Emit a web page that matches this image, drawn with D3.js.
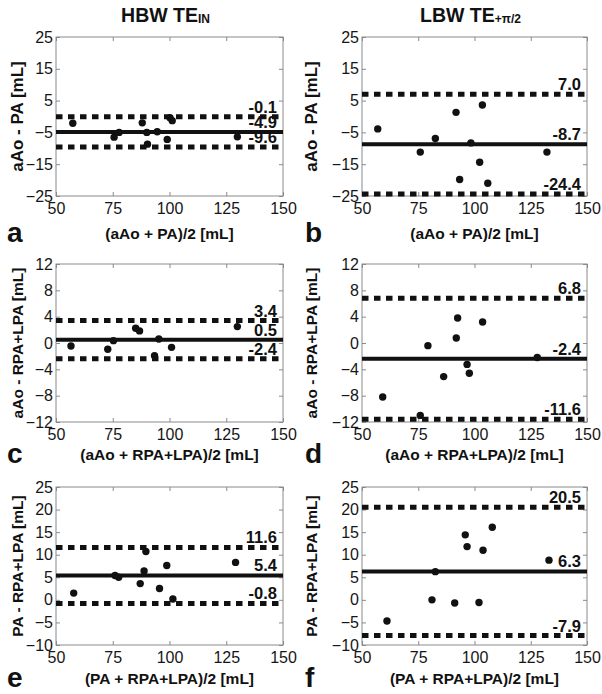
<!DOCTYPE html>
<html><head><meta charset="utf-8">
<script src="https://cdn.jsdelivr.net/npm/d3@7"></script>
<style>
body{margin:0;background:#fff}
text{font-family:"Liberation Sans",Arial,Helvetica,sans-serif}
</style>
</head><body>
<svg id="chart" width="602" height="694"></svg>
<script>
// ---- data ----
const xTicks = [50, 75, 100, 125, 150];
const yTicksAB = [-25, -15, -5, 5, 15, 25];
const yTicksCD = [-12, -8, -4, 0, 4, 8, 12];
const yTicksEF = [-10, -5, 0, 5, 10, 15, 20, 25];

const aMeanX = [57.4, 75.6, 77.8, 88.0, 90.0, 90.3, 94.6, 99.0, 100.2, 101.2, 129.9];
const aDiff  = [-2.1, -6.5, -5.0, -2.0, -5.0, -8.7, -4.8, -7.2, -0.4, -1.3, -6.4];
const aStats = [-4.9, -9.6, -0.1]; // mean, lower, upper

const bMeanX = [57.0, 75.9, 82.6, 91.8, 93.4, 98.4, 102.3, 103.5, 105.9, 132.2];
const bDiff  = [-3.9, -11.2, -6.9, 1.3, -19.8, -8.3, -14.4, 3.6, -21.0, -11.2];
const bStats = [-8.7, -24.4, 7.0];

const cMeanX = [56.6, 72.8, 75.3, 85.1, 86.8, 93.4, 95.3, 100.9, 129.9];
const cDiff  = [-0.46, -0.96, 0.36, 2.24, 1.84, -1.93, 0.61, -0.66, 2.49];
const cStats = [0.5, -2.4, 3.4];

const dMeanX = [59.2, 75.9, 79.3, 86.3, 91.9, 92.5, 96.7, 97.7, 103.6, 127.9];
const dDiff  = [-8.2, -11.0, -0.4, -5.1, 0.75, 3.8, -3.25, -4.6, 3.2, -2.2];
const dStats = [-2.4, -11.6, 6.8];

const eMeanX = [57.8, 76.0, 77.6, 87.1, 88.8, 89.6, 95.6, 98.8, 101.5, 129.1];
const eDiff  = [1.5, 5.4, 5.0, 3.6, 6.4, 10.7, 2.5, 7.6, 0.2, 8.3];
const eStats = [5.4, -0.8, 11.6];

const fMeanX = [61.1, 81.1, 82.6, 91.2, 95.9, 96.7, 102.0, 103.8, 107.9, 133.1];
const fDiff  = [-4.7, 0.0, 6.25, -0.7, 14.4, 11.8, -0.6, 11.0, 16.1, 8.8];
const fStats = [6.3, -7.9, 20.5];

const panelLetters = ["a", "b", "c", "d", "e", "f"];
const xTitles = ["(aAo + PA)/2 [mL]", "(aAo + PA)/2 [mL]",
                 "(aAo + RPA+LPA)/2 [mL]", "(aAo + RPA+LPA)/2 [mL]",
                 "(PA + RPA+LPA)/2 [mL]", "(PA + RPA+LPA)/2 [mL]"];
const yTitles = ["aAo - PA [mL]", "aAo - PA [mL]",
                 "aAo - RPA+LPA [mL]", "aAo - RPA+LPA [mL]",
                 "PA - RPA+LPA [mL]", "PA - RPA+LPA [mL]"];
const colTitles = [["HBW TE", "IN"], ["LBW TE", "+π/2"]];

// ---- layout ----
const svg = d3.select("#chart");
const colL = [56, 362], colR = [283, 587];
const rowT = [37, 264, 487], rowB = [196, 422, 645];
const rowTitleY = [239, 460, 684];
const rowYTitleSize = [17, 15.5, 15.5];

const panels = [
  {xs: aMeanX, ys: aDiff, st: aStats, yt: yTicksAB},
  {xs: bMeanX, ys: bDiff, st: bStats, yt: yTicksAB},
  {xs: cMeanX, ys: cDiff, st: cStats, yt: yTicksCD},
  {xs: dMeanX, ys: dDiff, st: dStats, yt: yTicksCD},
  {xs: eMeanX, ys: eDiff, st: eStats, yt: yTicksEF},
  {xs: fMeanX, ys: fDiff, st: fStats, yt: yTicksEF}
];

const frameCol = "#8a8a8a";

panels.forEach((p, i) => {
  const col = i % 2, row = Math.floor(i / 2);
  const L = colL[col], R = colR[col], T = rowT[row], B = rowB[row];
  const x = d3.scaleLinear().domain([xTicks[0], xTicks[xTicks.length - 1]]).range([L, R]);
  const y = d3.scaleLinear().domain([p.yt[0], p.yt[p.yt.length - 1]]).range([B, T]);
  const g = svg.append("g");

  // axes
  g.append("g").attr("transform", `translate(0,${B})`)
    .call(d3.axisBottom(x).tickValues(xTicks).tickSizeInner(-4).tickSizeOuter(0).tickPadding(7));
  g.append("g").attr("transform", `translate(${L},0)`)
    .call(d3.axisLeft(y).tickValues(p.yt).tickSizeInner(-4).tickSizeOuter(0).tickPadding(3));
  g.append("g").attr("transform", `translate(0,${T})`)
    .call(d3.axisTop(x).tickValues(xTicks).tickSizeInner(-4).tickSizeOuter(0).tickFormat(""));
  g.append("g").attr("transform", `translate(${R},0)`)
    .call(d3.axisRight(y).tickValues(p.yt).tickSizeInner(-4).tickSizeOuter(0).tickFormat(""));
  g.selectAll(".domain").remove();
  g.selectAll(".tick line").attr("stroke", frameCol).attr("stroke-width", 1);
  g.selectAll(".tick text").attr("font-size", 16).attr("fill", "#161616")
    .attr("font-family", '"Liberation Sans",Arial,sans-serif');

  g.append("rect").attr("x", L).attr("y", T).attr("width", R - L).attr("height", B - T)
    .attr("fill", "none").attr("stroke", frameCol).attr("stroke-width", 1);

  // limits of agreement & mean
  const [mean, lo, hi] = p.st;
  [lo, hi].forEach(v => {
    g.append("line").attr("x1", L).attr("x2", R).attr("y1", y(v)).attr("y2", y(v))
      .attr("stroke", "#111").attr("stroke-width", 5).attr("stroke-dasharray", "6.5,5.5");
  });
  g.append("line").attr("x1", L).attr("x2", R).attr("y1", y(mean)).attr("y2", y(mean))
    .attr("stroke", "#111").attr("stroke-width", 4);

  // points
  g.selectAll("circle.pt").data(p.xs.map((v, k) => [v, p.ys[k]])).join("circle")
    .attr("class", "pt").attr("cx", d => x(d[0])).attr("cy", d => y(d[1]))
    .attr("r", 3.7).attr("fill", "#111");

  // value labels
  [hi, mean, lo].forEach(v => {
    g.append("text").attr("x", R - 6).attr("y", y(v) - 4).attr("text-anchor", "end")
      .attr("font-size", 16.5).attr("font-weight", "bold").attr("fill", "#111")
      .text(v.toFixed(1));
  });

  // axis titles
  const tb = rowTitleY[row];
  g.append("text").attr("x", (L + R) / 2).attr("y", tb).attr("text-anchor", "middle")
    .attr("font-size", 15.5).attr("font-weight", "bold").attr("fill", "#111").text(xTitles[i]);
  const yx = col === 0 ? 17 : 311;
  g.append("text").attr("transform", `translate(${yx},${(T + B) / 2}) rotate(-90)`)
    .attr("text-anchor", "middle").attr("dy", "0.36em")
    .attr("font-size", rowYTitleSize[row]).attr("font-weight", "bold").attr("fill", "#111").text(yTitles[i]);

  // panel letter
  g.append("text").attr("x", col === 0 ? 7 : 305).attr("y", tb + 3)
    .attr("font-size", 28).attr("font-weight", "bold").attr("fill", "#111").text(panelLetters[i]);
});

// column titles
colTitles.forEach((t, c) => {
  const cx = (colL[c] + colR[c]) / 2 - 4;
  const tx = svg.append("text").attr("x", cx).attr("y", 22).attr("text-anchor", "middle")
    .attr("font-weight", "bold").attr("fill", "#111");
  tx.append("tspan").attr("font-size", 19.5).text(t[0]);
  tx.append("tspan").attr("font-size", 12).attr("dy", 1).text(t[1]);
});
</script>
</body></html>
